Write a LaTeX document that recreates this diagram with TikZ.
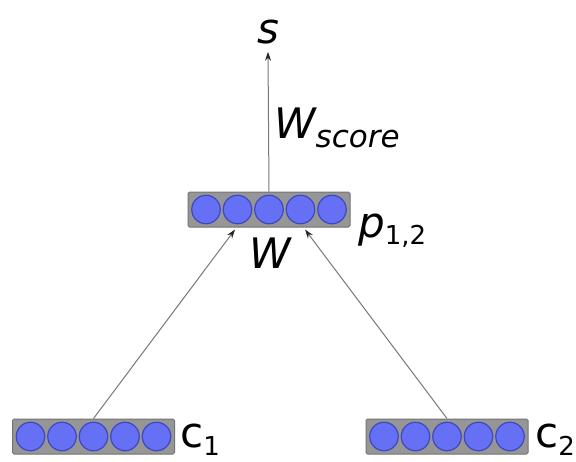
\documentclass[tikz,border=0pt]{standalone}
\usepackage{fontspec}
\setmainfont{DejaVu Sans}
\usetikzlibrary{arrows.meta,calc}
\definecolor{layerfill}{RGB}{150,150,150}
\definecolor{layeredge}{RGB}{115,115,115}
\definecolor{unitfill}{RGB}{102,112,245}
\definecolor{unitedge}{RGB}{62,72,190}
\definecolor{wire}{RGB}{120,120,120}
\tikzset{
  layer/.style={draw=layeredge, fill=layerfill, line width=1pt, rounded corners=1.5pt,
                minimum width=162pt, minimum height=35pt, inner sep=0pt},
  unit/.style={circle, draw=unitedge, fill=unitfill, line width=1.2pt,
               minimum size=28.5pt, inner sep=0pt},
  wirearrow/.style={draw=wire, line width=1pt,
                    -{Stealth[length=9pt,width=6pt,color=black!85]}},
  lbl/.style={inner sep=0pt, font=\fontsize{42}{46}\selectfont},
}
% a layer of five units centred in its box
\newcommand{\unitrow}[1]{%
  \foreach \k in {-2,...,2} {\node[unit] at ($(#1)+(\k*31.5,0)$) {};}}
\begin{document}
\begin{tikzpicture}[x=1pt,y=-1pt]
\useasboundingbox[fill=white] (0,0) rectangle (576,461);

% layers
\node[layer] (p)  at (269,209.5) {};
\node[layer] (c1) at (93.5,436.5) {};
\node[layer] (c2) at (447,436.5) {};
\unitrow{p}
\unitrow{c1}
\unitrow{c2}

% score output
\node[lbl, anchor=base] (s) at (268,43) {\itshape s};

% labels
\node[lbl, anchor=base west] (ws) at (274,138)
  {\itshape W\raisebox{-9pt}{\fontsize{31}{34}\selectfont score}};
\node[lbl, anchor=base] (w) at (270,268) {\itshape W};
\node[lbl, anchor=base west] (pl) at (358,237)
  {\itshape p\raisebox{-7pt}{\upshape\fontsize{26}{30}\selectfont 1,2}};
\node[lbl, anchor=base west] (cl1) at (180,447)
  {c\raisebox{-8pt}{\fontsize{26}{30}\selectfont 1}};
\node[lbl, anchor=base west] (cl2) at (535,447)
  {c\raisebox{-8pt}{\fontsize{26}{30}\selectfont 2}};

% connectors
\coordinate (pin1) at ($(p.south)+(-34,2)$);
\coordinate (pin2) at ($(p.south)+(36,2)$);
\draw[wirearrow] (c1.north) -- (pin1);
\draw[wirearrow] (c2.north) -- (pin2);
\draw[wirearrow] (p.north) -- ($(s.south)+(0,8)$);
\end{tikzpicture}
\end{document}
